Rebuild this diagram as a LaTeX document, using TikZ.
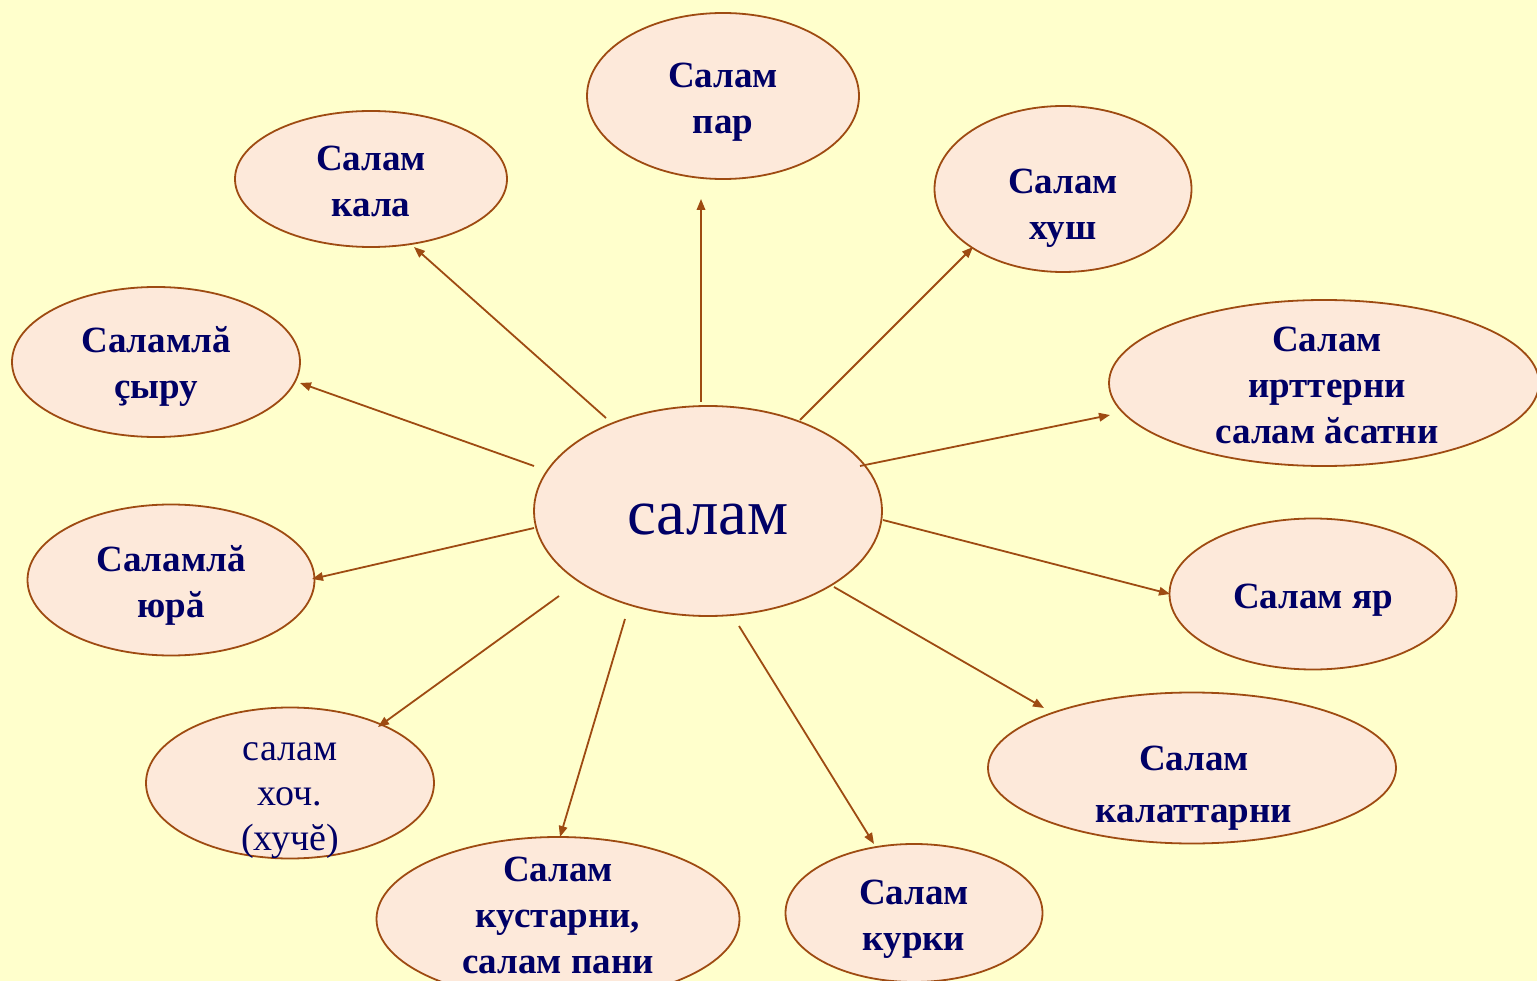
\documentclass[tikz,border=0pt]{standalone}
\usepackage{fontspec}
\setmainfont{Liberation Serif}
\usetikzlibrary{shapes.geometric,arrows.meta}
\definecolor{bgyellow}{HTML}{FFFFCC}
\definecolor{bubfill}{HTML}{FDE9DA}
\definecolor{bubline}{HTML}{9E4B12}
\definecolor{navytext}{HTML}{000066}
\tikzset{
  bub/.style={ellipse, draw=bubline, fill=bubfill, line width=1.8pt, inner sep=0pt},
  lbl/.style={text=navytext, align=center, inner sep=0pt, font=\fontsize{37}{46}\selectfont\bfseries},
  lblr/.style={text=navytext, align=center, inner sep=0pt, font=\fontsize{38}{45}\selectfont},
  con/.style={draw=bubline, line width=1.8pt, -{Triangle[length=11pt,width=8.5pt]}}
}
\begin{document}
\begin{tikzpicture}[x=1pt,y=-1pt]
\useasboundingbox (0,0) rectangle (1537,981);
\clip (0,0) rectangle (1537,981);
\fill[bgyellow] (0,0) rectangle (1537,981);

% centre
\node[bub, minimum width=348pt, minimum height=210pt] (c) at (708,511) {};
\node[text=navytext, inner sep=0pt, font=\fontsize{65}{78}\selectfont] (tc) at (708,520) {салам};

% satellites
\node[bub, minimum width=272pt, minimum height=166pt] (n1) at (723,96) {};
\node[lbl] (t1) at (723,102) {Салам\\пар};
\node[bub, minimum width=272pt, minimum height=136pt] (n2) at (371,179) {};
\node[lbl] (t2) at (371,181) {Салам\\кала};
\node[bub, minimum width=257pt, minimum height=166pt] (n3) at (1063,189) {};
\node[lbl] (t3) at (1063,208) {Салам\\хуш};
\node[bub, minimum width=288pt, minimum height=150pt] (n4) at (156,362) {};
\node[lbl] (t4) at (156,366) {Саламлă\\çыру};
\node[bub, minimum width=430pt, minimum height=166pt] (n5) at (1324,383) {};
\node[lbl] (t5) at (1327,385) {Салам\\ирттерни\\салам ăсатни};
\node[bub, minimum width=287pt, minimum height=151pt] (n6) at (171,580) {};
\node[lbl] (t6) at (171,585) {Саламлă\\юрă};
\node[bub, minimum width=287pt, minimum height=151pt] (n7) at (1313,594) {};
\node[lbl] (t7) at (1313,600) {Салам яр};
\node[bub, minimum width=288pt, minimum height=151pt] (n8) at (290,783) {};
\node[lblr] (t8) at (290,801) {салам\\хоч.\\(хучĕ)};
\node[bub, minimum width=408pt, minimum height=151pt] (n9) at (1192,768) {};
\node[lbl, font=\fontsize{37}{52}\selectfont\bfseries] (t9) at (1194,788) {Салам\\калаттарни};
\node[bub, minimum width=363pt, minimum height=164pt] (n10) at (558,919) {};
\node[lbl] (t10) at (558,915) {Салам\\кустарни,\\салам пани};
\node[bub, minimum width=257pt, minimum height=138pt] (n11) at (914,913) {};
\node[lbl] (t11) at (914,919) {Салам\\курки};

% connector end points
\coordinate (s1) at (701,402);  \coordinate (e1) at (701,199);
\coordinate (s2) at (606,418);  \coordinate (e2) at (414,247);
\coordinate (s3) at (800,420);  \coordinate (e3) at (973,247);
\coordinate (s4) at (534,466);  \coordinate (e4) at (300,383);
\coordinate (s5) at (860,466);  \coordinate (e5) at (1110,415);
\coordinate (s6) at (534,528);  \coordinate (e6) at (312,579);
\coordinate (s7) at (883,520);  \coordinate (e7) at (1170,594);
\coordinate (s8) at (559,596);  \coordinate (e8) at (378,727);
\coordinate (s9) at (625,619);  \coordinate (e9) at (560,837);
\coordinate (s10) at (739,626); \coordinate (e10) at (874,844);
\coordinate (s11) at (834,587); \coordinate (e11) at (1044,708);

\draw[con] (s1) -- (e1);
\draw[con] (s2) -- (e2);
\draw[con] (s3) -- (e3);
\draw[con] (s4) -- (e4);
\draw[con] (s5) -- (e5);
\draw[con] (s6) -- (e6);
\draw[con] (s7) -- (e7);
\draw[con] (s8) -- (e8);
\draw[con] (s9) -- (e9);
\draw[con] (s10) -- (e10);
\draw[con] (s11) -- (e11);
\end{tikzpicture}
\end{document}
